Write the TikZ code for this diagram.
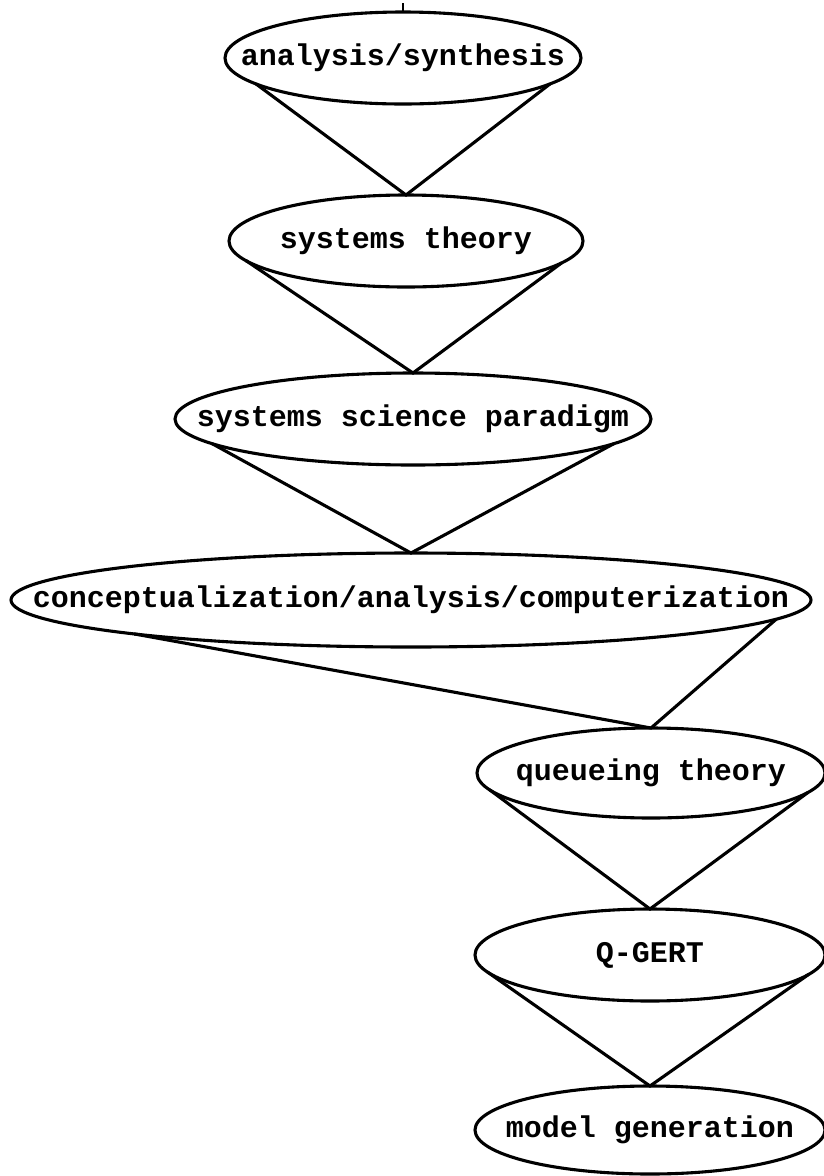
\documentclass[tikz,border=0pt]{standalone}
\usepackage{fontspec}
\setmonofont{Liberation Mono}
\usetikzlibrary{shapes.geometric}
\tikzset{
  oval/.style={draw, ellipse, line width=3.1pt, inner sep=0pt, outer sep=0pt,
    font=\ttfamily\bfseries\fontsize{30}{31}\selectfont},
  conn/.style={draw, line width=3.1pt, line join=miter, line cap=round}
}
\newcommand{\lbl}[1]{\makebox[0pt]{#1}}
\begin{document}
\begin{tikzpicture}[x=1pt,y=-1pt]
\useasboundingbox (0,0) rectangle (824,1176);
\node[oval, minimum width=356pt, minimum height=92pt] (e1) at (403,58) {\lbl{analysis/synthesis}};
\node[oval, minimum width=354pt, minimum height=92pt] (e2) at (406,241) {\lbl{systems theory}};
\node[oval, minimum width=476pt, minimum height=92pt] (e3) at (413,419) {\lbl{systems science paradigm}};
\node[oval, minimum width=800pt, minimum height=94pt] (e4) at (411,600) {\lbl{conceptualization/analysis/computerization}};
\node[oval, minimum width=348pt, minimum height=90pt] (e5) at (651,773) {\lbl{queueing theory}};
\node[oval, minimum width=350pt, minimum height=92pt] (e6) at (650,955) {\lbl{Q-GERT}};
\node[oval, minimum width=350pt, minimum height=88pt] (e7) at (650,1130) {\lbl{model generation}};
\coordinate (tick) at (403,3);
\draw[line width=2.2pt] (tick) -- (e1.north);
\draw[conn] (e1.190) -- (e2.north) -- (e1.350);
\draw[conn] (e2.187) -- (e3.north) -- (e2.352);
\draw[conn] (e3.187) -- (e4.north) -- (e3.353);
\draw[conn] (e4.187.7) -- (e5.north) -- (e4.357.5);
\draw[conn] (e5.186) -- (e6.north) -- (e5.353.2);
\draw[conn] (e6.186.6) -- (e7.north) -- (e6.353.4);
\end{tikzpicture}
\end{document}
